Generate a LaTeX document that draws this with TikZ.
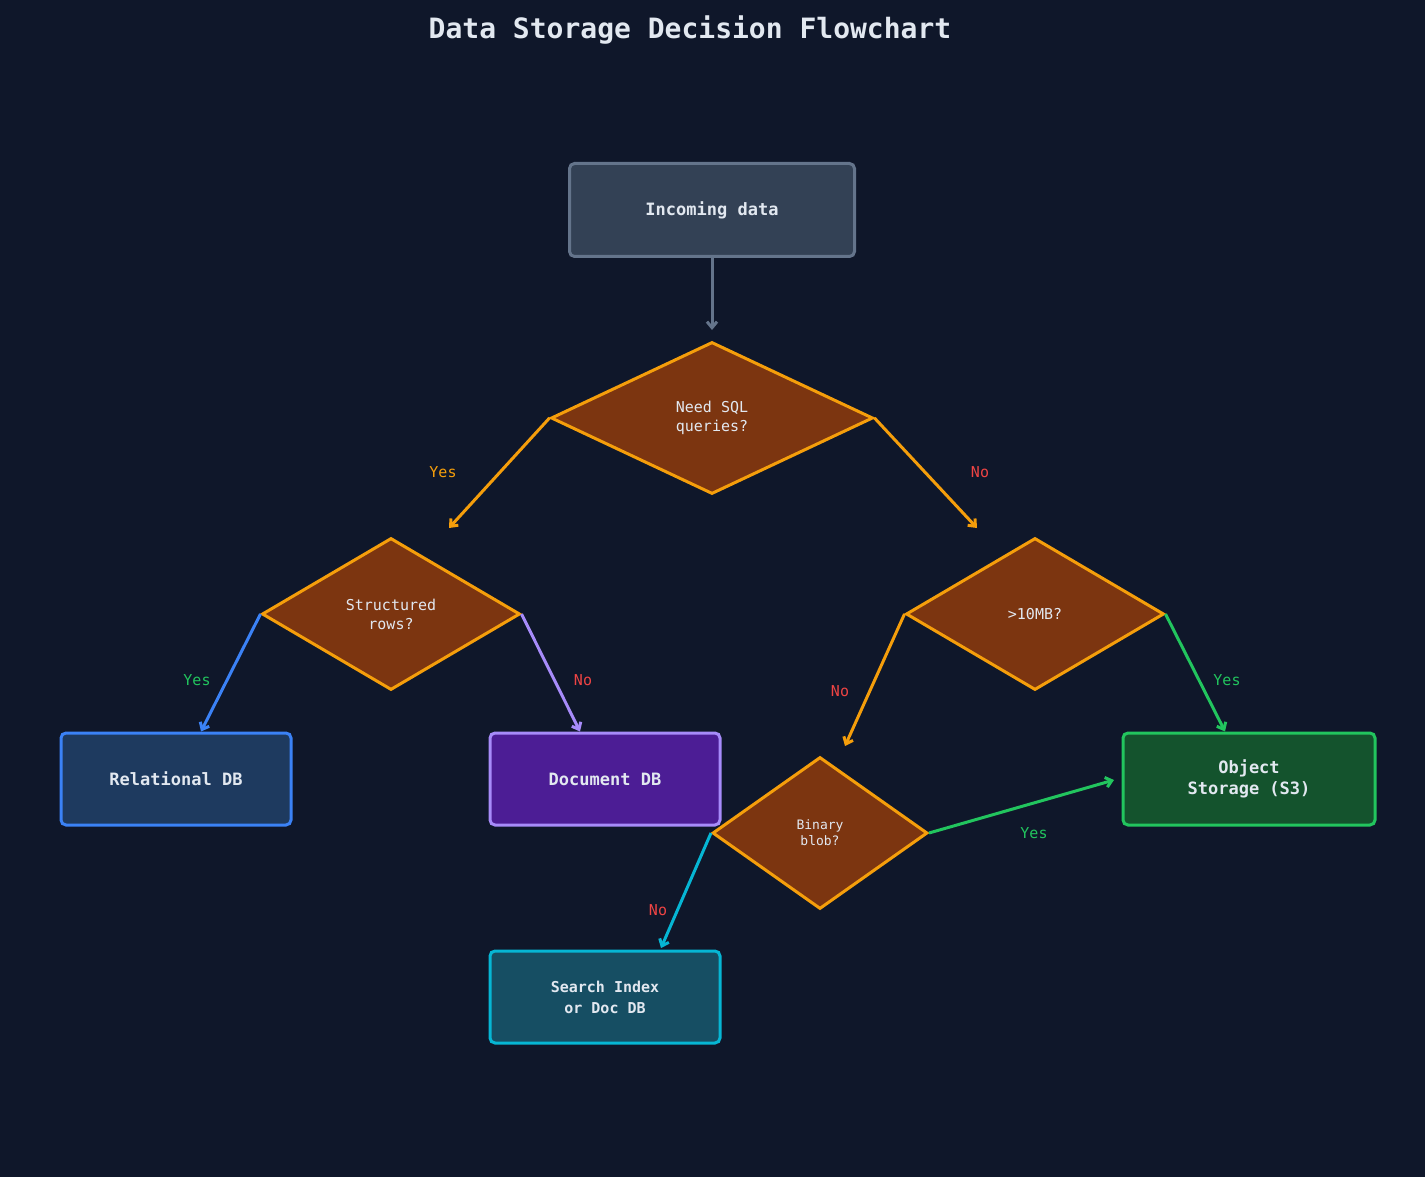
\documentclass[tikz,border=0pt]{standalone}
\usepackage{fontspec}
\setmainfont{DejaVu Sans Mono}
\usetikzlibrary{shapes.geometric,arrows.meta}
\definecolor{bg}{HTML}{0F172A}
\definecolor{txt}{HTML}{E2E8F0}
\definecolor{dfill}{HTML}{7C3510}
\definecolor{dline}{HTML}{F59E0B}
\definecolor{gray1}{HTML}{64748B}
\definecolor{gfill}{HTML}{334155}
\definecolor{bl}{HTML}{3B82F6}\definecolor{blf}{HTML}{1E3A5F}
\definecolor{pu}{HTML}{A78BFA}\definecolor{puf}{HTML}{4C1D95}
\definecolor{gr}{HTML}{22C55E}\definecolor{grf}{HTML}{14532D}
\definecolor{cy}{HTML}{06B6D4}\definecolor{cyf}{HTML}{164E63}
\definecolor{rd}{HTML}{EF4444}
\begin{document}
\begin{tikzpicture}[x=1pt,y=-1pt,
 box/.style={draw,line width=3pt,rounded corners=5pt,minimum width=230pt,minimum height=92pt,text=txt,font=\fontsize{17}{21}\selectfont\bfseries,align=center},
 dia/.style={diamond,draw=dline,fill=dfill,line width=3pt,aspect=1.7,inner sep=0pt,text=txt,font=\fontsize{15}{19}\selectfont,align=center},
 arr/.style={line width=3pt,-{Straight Barb[length=6pt,width=10pt]}},
 lab/.style={font=\fontsize{15}{18}\selectfont}]
\fill[bg] (0,0) rectangle (1425,1177);
\useasboundingbox (0,0) rectangle (1425,1177);
\node[text=txt,font=\fontsize{28}{32}\selectfont\bfseries] (title) at (690,30) {Data Storage Decision Flowchart};
\node[box,draw=gray1,fill=gfill,minimum width=285pt,minimum height=93pt] (in) at (712,210) {Incoming data};
\node[dia,minimum width=322pt,minimum height=152pt] (d1) at (712,418) {Need SQL\\queries?};
\node[dia,minimum width=258pt,minimum height=152pt] (d2) at (391,614) {Structured\\rows?};
\node[dia,minimum width=258pt,minimum height=152pt] (d3) at (1035,614) {>10MB?};
\node[dia,minimum width=215pt,minimum height=152pt,font=\fontsize{13}{16}\selectfont] (d4) at (820,833) {Binary\\blob?};
\node[box,draw=bl,fill=blf] (rel) at (176,779) {Relational DB};
\node[box,draw=pu,fill=puf] (doc) at (605,779) {Document DB};
\node[box,draw=gr,fill=grf,minimum width=252pt] (obj) at (1249,779) {Object\\Storage (S3)};
\node[box,draw=cy,fill=cyf,font=\fontsize{15}{21}\selectfont\bfseries] (srch) at (605,997) {Search Index\\or Doc DB};
\coordinate (e0) at (712,330);
\coordinate (e1) at (449,528);
\coordinate (e2) at (977,528);
\coordinate (e3) at (845,746);
\coordinate (e4) at (1114,780);
\coordinate (e5) at (661,948);
\draw[arr,gray1] (in.south) -- (e0);
\draw[arr,dline] (d1.west) -- (e1);
\draw[arr,dline] (d1.east) -- (e2);
\draw[arr,bl] (d2.west) -- (rel.north -| 201,0);
\draw[arr,pu] (d2.east) -- (doc.north -| 580,0);
\draw[arr,dline] (d3.west) -- (e3);
\draw[arr,gr] (d3.east) -- (obj.north -| 1225,0);
\draw[arr,gr] (d4.east) -- (e4);
\draw[arr,cy] (d4.west) -- (e5);
\node[lab,text=dline] (l1) at (443,472) {Yes};
\node[lab,text=rd] (l2) at (980,472) {No};
\node[lab,text=gr] (l3) at (197,680) {Yes};
\node[lab,text=rd] (l4) at (583,680) {No};
\node[lab,text=rd] (l5) at (840,691) {No};
\node[lab,text=gr] (l6) at (1227,680) {Yes};
\node[lab,text=gr] (l7) at (1034,833) {Yes};
\node[lab,text=rd] (l8) at (658,910) {No};
\end{tikzpicture}
\end{document}
